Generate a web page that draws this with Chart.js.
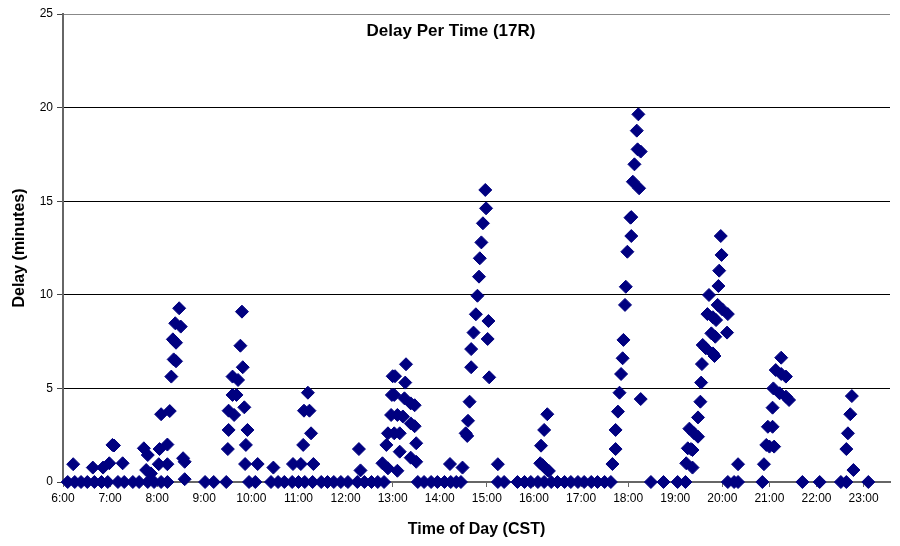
<!DOCTYPE html>
<html>
<head>
<meta charset="utf-8">
<title>Delay Per Time (17R)</title>
<script src="https://cdn.jsdelivr.net/npm/chart.js@4.4.0/dist/chart.umd.min.js"></script>
<style>
	html, body { margin: 0; padding: 0; background: #fff; }
	.chart-container { width: 900px; height: 546px; position: relative; }
</style>
</head>
<body>
<div class="chart-container"><canvas width="900" height="546"></canvas></div>
<script>
// each block: arrival times (CST) and the delay in minutes
const morningTimes = ["6:06","6:13","6:15","6:23","6:31","6:38","6:40","6:49","6:51","6:57","6:59","7:03","7:05","7:10","7:16","7:18","7:29","7:37","7:43","7:46","7:48","7:48","7:52","7:56","8:02","8:03","8:05","8:05","8:13","8:13","8:13","8:16","8:18","8:20","8:21","8:23","8:24","8:24","8:28","8:30","8:33","8:35","8:35"];
const morningDelays = [0,0.95,0,0,0,0.77,0,0,0.77,0,1.0,1.98,1.95,0,1.0,0,0,0,1.8,0.64,0,1.44,0.46,0,0.95,1.76,0,3.62,0,2.0,0.95,3.79,5.63,7.62,6.55,8.48,7.44,6.45,9.28,8.3,1.27,1.08,0.15];

const lateMorningTimes = ["9:01","9:12","9:28","9:30","9:31","9:31","9:36","9:36","9:38","9:41","9:43","9:46","9:48","9:49","9:51","9:52","9:53","9:55","9:57","10:05","10:08","10:25","10:28","10:34","10:42","10:52","10:53","11:00","11:03","11:06","11:07","11:08","11:12","11:14","11:16","11:18","11:19","11:29","11:37","11:45","11:54","12:03","12:15","12:17","12:19","12:24"];
const lateMorningDelays = [0,0,0,1.76,3.81,2.78,5.63,4.65,3.58,4.65,5.45,7.28,9.1,6.13,3.99,0.96,1.98,2.78,0,0,0.96,0,0.77,0,0,0,0.96,0,0.96,1.98,3.81,0,4.77,3.81,2.6,0,0.96,0,0,0,0,0,0,1.76,0.62,0];

const afternoonTimes = ["12:33","12:41","12:47","12:49","12:52","12:54","12:54","12:58","12:59","13:00","13:02","13:02","13:03","13:06","13:06","13:09","13:09","13:13","13:15","13:16","13:17","13:23","13:23","13:23","13:28","13:28","13:30","13:30","13:32","13:40","13:49","13:57","14:06","14:13","14:14","14:21","14:27","14:29","14:33","14:35","14:36","14:38","14:40","14:40","14:43","14:46","14:48","14:50","14:51","14:53","14:55","14:58","14:59","15:01","15:02","15:03","15:14","15:14","15:22"];
const afternoonDelays = [0,0,1.0,0,1.98,2.6,0.73,3.58,4.65,5.65,4.65,2.6,5.65,3.58,0.6,2.6,1.62,3.5,4.47,5.31,6.29,4.2,3.13,1.3,4.1,2.98,2.07,1.08,0,0,0,0,0,0.96,0,0,0,0.77,2.6,2.46,3.27,4.29,6.13,7.1,7.98,8.96,9.95,10.97,11.95,12.8,13.82,15.6,14.62,7.64,8.6,5.59,0.95,0,0];

const eveningTimes = ["15:39","15:48","15:56","16:05","16:08","16:09","16:11","16:13","16:13","16:17","16:17","16:19","16:22","16:30","16:39","16:47","16:56","17:04","17:13","17:21","17:30","17:38","17:40","17:44","17:44","17:47","17:49","17:51","17:53","17:54","17:56","17:57","17:59","18:03","18:04","18:04","18:06","18:08","18:11","18:12","18:13","18:14","18:16","18:16","18:29","18:45"];
const eveningDelays = [0,0,0,0,1.0,1.94,0.9,0,2.78,3.62,0.64,0.59,0,0,0,0,0,0,0,0,0,0,0.96,2.78,1.76,3.76,4.77,5.77,6.61,7.59,9.46,10.43,12.3,14.12,14.15,13.14,16.04,16.97,18.77,17.77,19.64,15.69,17.65,4.43,0,0];

const nightTimes = ["19:03","19:13","19:14","19:16","19:18","19:20","19:22","19:22","19:24","19:29","19:29","19:32","19:33","19:34","19:35","19:39","19:41","19:43","19:46","19:48","19:48","19:50","19:51","19:52","19:54","19:55","19:56","19:58","19:59","20:00","20:06","20:07","20:07","20:15","20:20","20:20","20:51","20:53","20:56","20:58","21:00","21:04","21:04","21:05","21:06","21:08","21:13","21:15","21:15","21:21","21:21","21:25","21:42","22:04","22:31","22:38","22:38","22:40","22:43","22:45","22:47","23:06"];
const nightDelays = [0,0,1.0,1.8,2.85,1.76,1.71,0.77,2.6,3.45,2.42,4.29,5.31,6.3,7.32,7.14,8.97,9.99,7.94,8.8,6.87,6.73,7.76,8.65,9.46,10.47,11.29,13.14,12.13,9.22,7.98,8.97,0,0,0,0.95,0,0.95,1.98,2.95,1.89,3.97,2.95,5.0,1.89,5.98,4.74,6.64,5.77,5.63,4.56,4.38,0,0,0,0,1.76,2.6,3.62,4.59,0.64,0];

const hourTicks = [6,7,8,9,10,11,12,13,14,15,16,17,18,19,20,21,22,23];
const delayTicks = [0,5,10,15,20,25];

const toHours = t => {
	const [h, m] = t.split(":").map(Number);
	return h + m / 60;
};

const blocks = [
	[morningTimes, morningDelays],
	[lateMorningTimes, lateMorningDelays],
	[afternoonTimes, afternoonDelays],
	[eveningTimes, eveningDelays],
	[nightTimes, nightDelays]
];
const points = [];
for (const [times, delays] of blocks) {
	if (times.length !== delays.length) console.warn("length mismatch", times[0]);
	times.forEach((t, i) => points.push({ x: toHours(t), y: delays[i] }));
}

const font = "'Liberation Sans', Arial, sans-serif";

// title sits inside the plot area, like the excel original
const titlePlugin = {
	id: "insideTitle",
	afterDraw(chart) {
		const ctx = chart.ctx;
		ctx.save();
		ctx.font = `bold 17px ${font}`;
		ctx.fillStyle = "#000";
		ctx.textAlign = "center";
		ctx.textBaseline = "middle";
		ctx.fillText("Delay Per Time (17R)", 451, 31);
		ctx.restore();
	}
};

new Chart(document.querySelector(".chart-container canvas"), {
	type: "scatter",
	data: {
		datasets: [
			{
				label: "Delay",
				data: points,
				pointStyle: "rectRot",
				pointRadius: 6.5,
				pointHoverRadius: 6.5,
				backgroundColor: "#000080",
				borderColor: "#000080",
				borderWidth: 1,
				clip: false
			}
		]
	},
	options: {
		responsive: false,
		animation: false,
		events: [],
		layout: { padding: { top: 14, right: 10, left: 0, bottom: 0 } },
		scales: {
			x: {
				type: "linear",
				min: 6,
				max: 23.56,
				afterFit(scale) {
					scale.height = 64;
				},
				afterBuildTicks(scale) {
					scale.ticks = hourTicks.map(v => ({ value: v }));
				},
				border: { color: "#666", width: 2 },
				grid: {
					drawOnChartArea: false,
					drawTicks: true,
					tickLength: 5,
					color: "#666"
				},
				ticks: {
					autoSkip: false,
					maxRotation: 0,
					padding: 4,
					color: "#000",
					font: { family: font, size: 12 },
					callback: v => `${v}:00`
				},
				title: {
					display: true,
					text: "Time of Day (CST)",
					color: "#000",
					font: { family: font, size: 16, weight: "bold" },
					padding: { top: 0, bottom: 7 }
				}
			},
			y: {
				min: 0,
				max: 25,
				afterFit(scale) {
					scale.width = 63;
				},
				afterBuildTicks(scale) {
					scale.ticks = delayTicks.map(v => ({ value: v }));
				},
				border: { color: "#666", width: 2 },
				grid: {
					color(ctx) {
						if (ctx.tick.value === 0) return "rgba(0,0,0,0)";
						if (ctx.tick.value === 25) return "#888";
						return "#000";
					},
					tickColor: "#444",
					tickLength: 6
				},
				ticks: {
					padding: 4,
					color: "#000",
					font: { family: font, size: 12 }
				},
				title: {
					display: true,
					text: "Delay (minutes)",
					color: "#000",
					font: { family: font, size: 16, weight: "bold" },
					padding: { top: 10, bottom: 0 }
				}
			}
		},
		plugins: {
			legend: { display: false },
			tooltip: { enabled: false }
		}
	},
	plugins: [titlePlugin]
});
</script>
</body>
</html>
